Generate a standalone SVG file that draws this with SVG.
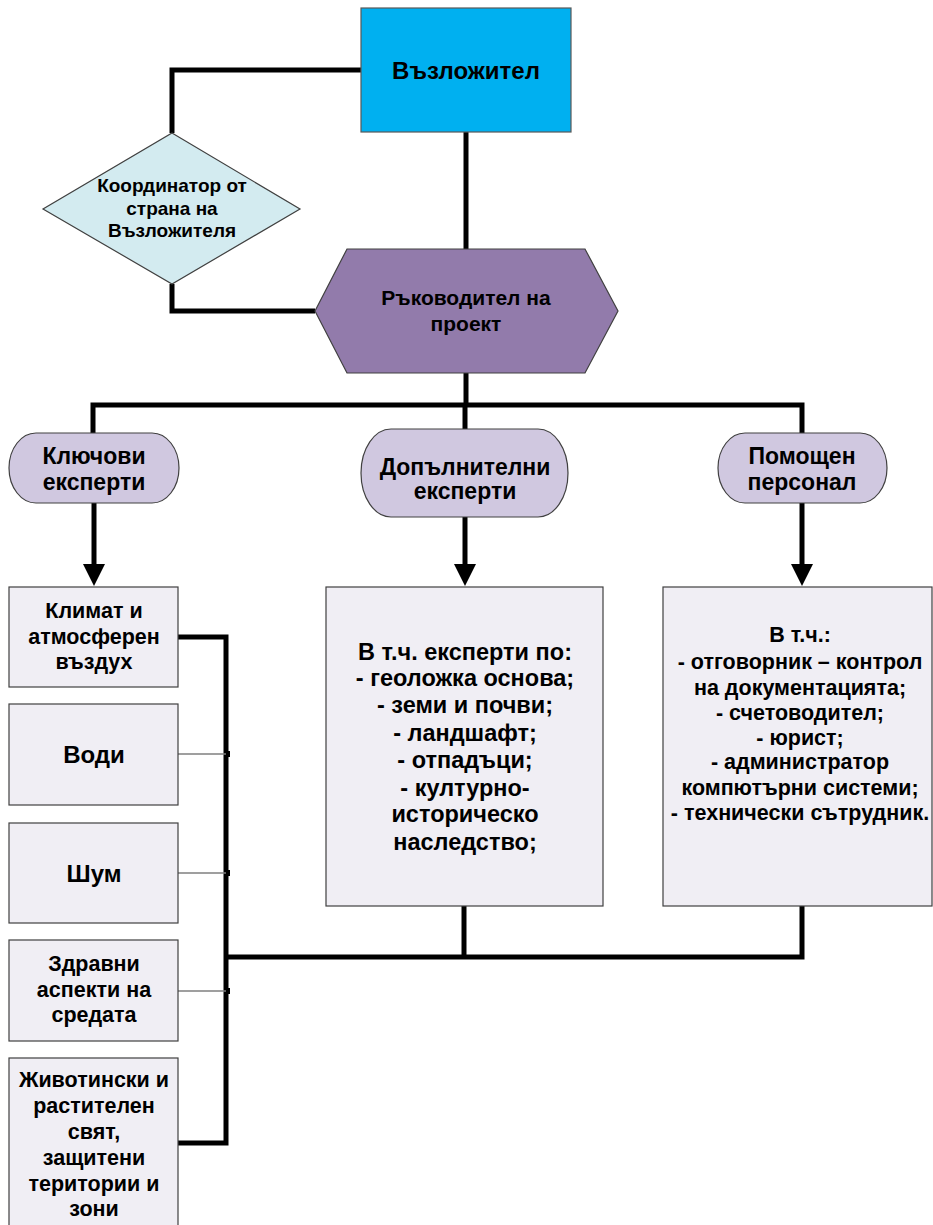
<svg xmlns="http://www.w3.org/2000/svg" width="933" height="1225" viewBox="0 0 933 1225">
<defs>
<style>
text{font-family:"Liberation Sans",Arial,sans-serif;font-weight:bold;fill:#000;text-anchor:middle}
.c{fill:none;stroke:#000;stroke-width:5;stroke-linejoin:miter}
.thin{fill:none;stroke:#808080;stroke-width:1.5}
.tick{fill:none;stroke:#000;stroke-width:2}
.box{fill:#F0EEF4;stroke:#404040;stroke-width:1.2}
.pill{fill:#D0C8E0;stroke:#404040;stroke-width:1.2}
</style>
<marker id="ah" markerUnits="userSpaceOnUse" markerWidth="22" markerHeight="22" refX="0" refY="11" orient="auto" viewBox="0 0 22 22">
<path d="M0,0 L22,11 L0,22 Z" fill="#000"/>
</marker>
</defs>
<g id="connectors">
<path class="c" d="M361,70 H172 V133"/>
<path class="c" d="M466,132 V249"/>
<path class="c" d="M172,284 V311 H315"/>
<path class="c" d="M466,373 V405"/>
<path class="c" d="M93,433 V405 H802 V433"/>
<path class="c" d="M465,405 V429"/>
<path class="c" d="M94,503 V564" marker-end="url(#ah)"/>
<path class="c" d="M465,517 V564" marker-end="url(#ah)"/>
<path class="c" d="M802,503 V564" marker-end="url(#ah)"/>
<path class="c" d="M178,637 H226 V1143 H178"/>
<path class="c" d="M226,957 H802 V906"/>
<path class="c" d="M464,906 V957"/>
<path class="thin" d="M178,754 H226 M178,873 H226 M178,991 H226"/>
<path class="tick" d="M229,751 V757 M229,870 V876 M229,988 V994"/>
</g>
<g id="vazlozhitel">
<rect x="361" y="8" width="210" height="124" fill="#00B0F0" stroke="#595959" stroke-width="1.2"/>
<text x="466" y="79" font-size="24">Възложител</text>
</g>
<g id="koordinator">
<polygon points="172,133 300,209 172,284 43,209" fill="#D3EBF0" stroke="#404040" stroke-width="1.2"/>
<text font-size="19"><tspan x="172" y="192">Координатор от</tspan><tspan x="172" y="215">страна на</tspan><tspan x="172" y="237">Възложителя</tspan></text>
</g>
<g id="rakovoditel">
<polygon points="347,249 585,249 618,311 585,373 347,373 315,311" fill="#927BAB" stroke="#404040" stroke-width="1.2"/>
<text font-size="21"><tspan x="466" y="305">Ръководител на</tspan><tspan x="466" y="331">проект</tspan></text>
</g>
<g id="klyuchovi">
<rect class="pill" x="9" y="433" width="170" height="70" rx="27" ry="35"/>
<text font-size="23"><tspan x="94" y="464">Ключови</tspan><tspan x="94" y="490">експерти</tspan></text>
</g>
<g id="dopalnitelni">
<rect class="pill" x="361" y="429" width="207" height="88" rx="30" ry="44"/>
<text font-size="23"><tspan x="465" y="475">Допълнителни</tspan><tspan x="465" y="499">експерти</tspan></text>
</g>
<g id="pomoshten">
<rect class="pill" x="718" y="433" width="169" height="70" rx="27" ry="35"/>
<text font-size="23"><tspan x="802" y="464">Помощен</tspan><tspan x="802" y="490">персонал</tspan></text>
</g>
<g id="klimat">
<rect class="box" x="9" y="587" width="169" height="100"/>
<text font-size="21.5"><tspan x="94" y="618">Климат и</tspan><tspan x="94" y="644">атмосферен</tspan><tspan x="94" y="669">въздух</tspan></text>
</g>
<g id="vodi">
<rect class="box" x="9" y="704" width="169" height="101"/>
<text x="94" y="763" font-size="24">Води</text>
</g>
<g id="shum">
<rect class="box" x="9" y="823" width="169" height="100"/>
<text x="94" y="882" font-size="24">Шум</text>
</g>
<g id="zdravni">
<rect class="box" x="9" y="940" width="169" height="101"/>
<text font-size="21.5"><tspan x="94" y="971">Здравни</tspan><tspan x="94" y="997">аспекти на</tspan><tspan x="94" y="1022">средата</tspan></text>
</g>
<g id="zhivotinski">
<rect class="box" x="9" y="1058" width="169" height="180"/>
<text font-size="21.5"><tspan x="94" y="1087">Животински и</tspan><tspan x="94" y="1113">растителен</tspan><tspan x="94" y="1139">свят,</tspan><tspan x="94" y="1165">защитени</tspan><tspan x="94" y="1191">територии и</tspan><tspan x="94" y="1216">зони</tspan></text>
</g>
<g id="dopalnitelni-box">
<rect class="box" x="326" y="587" width="277" height="319"/>
<text font-size="23.5"><tspan x="465" y="660">В т.ч. експерти по:</tspan><tspan x="465" y="686">- геоложка основа;</tspan><tspan x="465" y="713">- земи и почви;</tspan><tspan x="465" y="741">- ландшафт;</tspan><tspan x="465" y="768">- отпадъци;</tspan><tspan x="465" y="796">- културно-</tspan><tspan x="465" y="822">историческо</tspan><tspan x="465" y="850">наследство;</tspan></text>
</g>
<g id="pomoshten-box">
<rect class="box" x="663" y="587" width="269" height="319"/>
<text font-size="21.5"><tspan x="800" y="642">В т.ч.:</tspan><tspan x="800" y="669">- отговорник – контрол</tspan><tspan x="800" y="695">на документацията;</tspan><tspan x="800" y="720">- счетоводител;</tspan><tspan x="800" y="745">- юрист;</tspan><tspan x="800" y="769">- администратор</tspan><tspan x="800" y="795">компютърни системи;</tspan><tspan x="800" y="820">- технически сътрудник.</tspan></text>
</g>
</svg>
